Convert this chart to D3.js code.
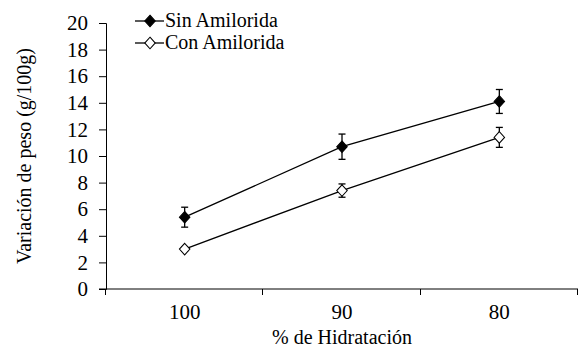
<!DOCTYPE html>
<html>
<head>
<meta charset="utf-8">
<script src="https://cdn.jsdelivr.net/npm/d3@7/dist/d3.min.js"></script>
<style>
  body { margin: 0; background: #fff; }
  svg { display: block; }
</style>
</head>
<body>
<svg id="chart" width="579" height="351" font-family="Liberation Serif"></svg>
<script>
// Hydration levels (%)
const categories = ["100", "90", "80"];
// Weight change (g/100g), without and with amiloride
const sinValues = [5.4, 10.7, 14.1];
const sinErrors = [0.75, 0.95, 0.9];
const conValues = [3.0, 7.4, 11.4];
const conErrors = [0.15, 0.5, 0.75];
const yTicks = [0, 2, 4, 6, 8, 10, 12, 14, 16, 18, 20];
const seriesNames = ["Sin Amilorida", "Con Amilorida"];

const FONT = "Liberation Serif";

const svg = d3.select("#chart");
const margin = { left: 106, right: 1, top: 23, bottom: 62 };
const W = 579, H = 351;

const x = d3.scaleBand().domain(categories)
  .range([margin.left, W - margin.right]).paddingInner(0).paddingOuter(0);
const y = d3.scaleLinear().domain([0, 20]).range([H - margin.bottom, margin.top]);

function styleText(sel, size) {
  return sel.attr("font-family", FONT)
    .style("font-family", `'${FONT}'`)
    .style("font-size", (size || 20) + "px")
    .attr("fill", "#000");
}

// Y axis
const yAxis = svg.append("g")
  .attr("transform", `translate(${margin.left},0)`)
  .call(d3.axisLeft(y).tickValues(yTicks).tickSize(7).tickPadding(11).tickFormat(d3.format("d")))
  .attr("font-family", FONT);
styleText(yAxis.selectAll("text"), 21);
yAxis.selectAll("path, line").attr("stroke", "#000").attr("stroke-width", 1);

// X axis with ticks at band boundaries
const xAxisG = svg.append("g").attr("transform", `translate(0,${y(0)})`);
xAxisG.append("line").attr("x1", margin.left - 7).attr("x2", W - margin.right)
  .attr("stroke", "#000");
const bounds = categories.map(c => x(c)).concat([x(categories[categories.length - 1]) + x.bandwidth()]);
xAxisG.selectAll("line.tick").data(bounds).enter().append("line")
  .attr("class", "tick")
  .attr("x1", d => Math.round(d) - 0.5).attr("x2", d => Math.round(d) - 0.5)
  .attr("y1", 0).attr("y2", 6).attr("stroke", "#000");
styleText(xAxisG.selectAll("text").data(categories).enter().append("text")
  .attr("x", d => x(d) + x.bandwidth() / 2)
  .attr("y", 30)
  .attr("text-anchor", "middle")
  .text(d => d), 21);

// Axis titles
styleText(svg.append("text")
  .attr("x", x(categories[1]) + x.bandwidth() / 2)
  .attr("y", 344)
  .attr("text-anchor", "middle")
  .text("% de Hidratación"));
styleText(svg.append("text")
  .attr("transform", `translate(31,${(y(0) + y(20)) / 2}) rotate(-90)`)
  .attr("text-anchor", "middle")
  .text("Variación de peso (g/100g)"));

const cx = d => x(d) + x.bandwidth() / 2;
const diamond = d3.symbol().type(d3.symbolDiamond2).size(70);

function drawSeries(values, errors, fill) {
  const g = svg.append("g");
  const line = d3.line().x((d, i) => cx(categories[i])).y(d => y(d));
  g.append("path").datum(values).attr("d", line)
    .attr("fill", "none").attr("stroke", "#000").attr("stroke-width", 1.3);
  values.forEach((v, i) => {
    const px = cx(categories[i]);
    const top = y(v + errors[i]), bot = y(v - errors[i]);
    g.append("line").attr("x1", px).attr("x2", px).attr("y1", top).attr("y2", bot)
      .attr("stroke", "#000").attr("stroke-width", 1.3);
    [top, bot].forEach(yy => g.append("line")
      .attr("x1", px - 3.5).attr("x2", px + 3.5).attr("y1", yy).attr("y2", yy)
      .attr("stroke", "#000").attr("stroke-width", 1.3));
  });
  g.selectAll("path.pt").data(values).enter().append("path")
    .attr("class", "pt")
    .attr("d", diamond)
    .attr("transform", (d, i) => `translate(${cx(categories[i])},${y(d)}) scale(1,1.1)`)
    .attr("fill", fill).attr("stroke", "#000").attr("stroke-width", 1);
}

drawSeries(sinValues, sinErrors, "#000");
drawSeries(conValues, conErrors, "#fff");

// Legend
const legend = svg.append("g");
[["#000", 21], ["#fff", 43]].forEach(([fill, ly], i) => {
  legend.append("line").attr("x1", 135).attr("x2", 164).attr("y1", ly).attr("y2", ly)
    .attr("stroke", "#000").attr("stroke-width", 1.3);
  legend.append("path").attr("d", diamond)
    .attr("transform", `translate(150,${ly}) scale(1,1.1)`)
    .attr("fill", fill).attr("stroke", "#000");
  styleText(legend.append("text").attr("x", 165).attr("y", ly + 6)
    .text(seriesNames[i]));
});
</script>
</body>
</html>
